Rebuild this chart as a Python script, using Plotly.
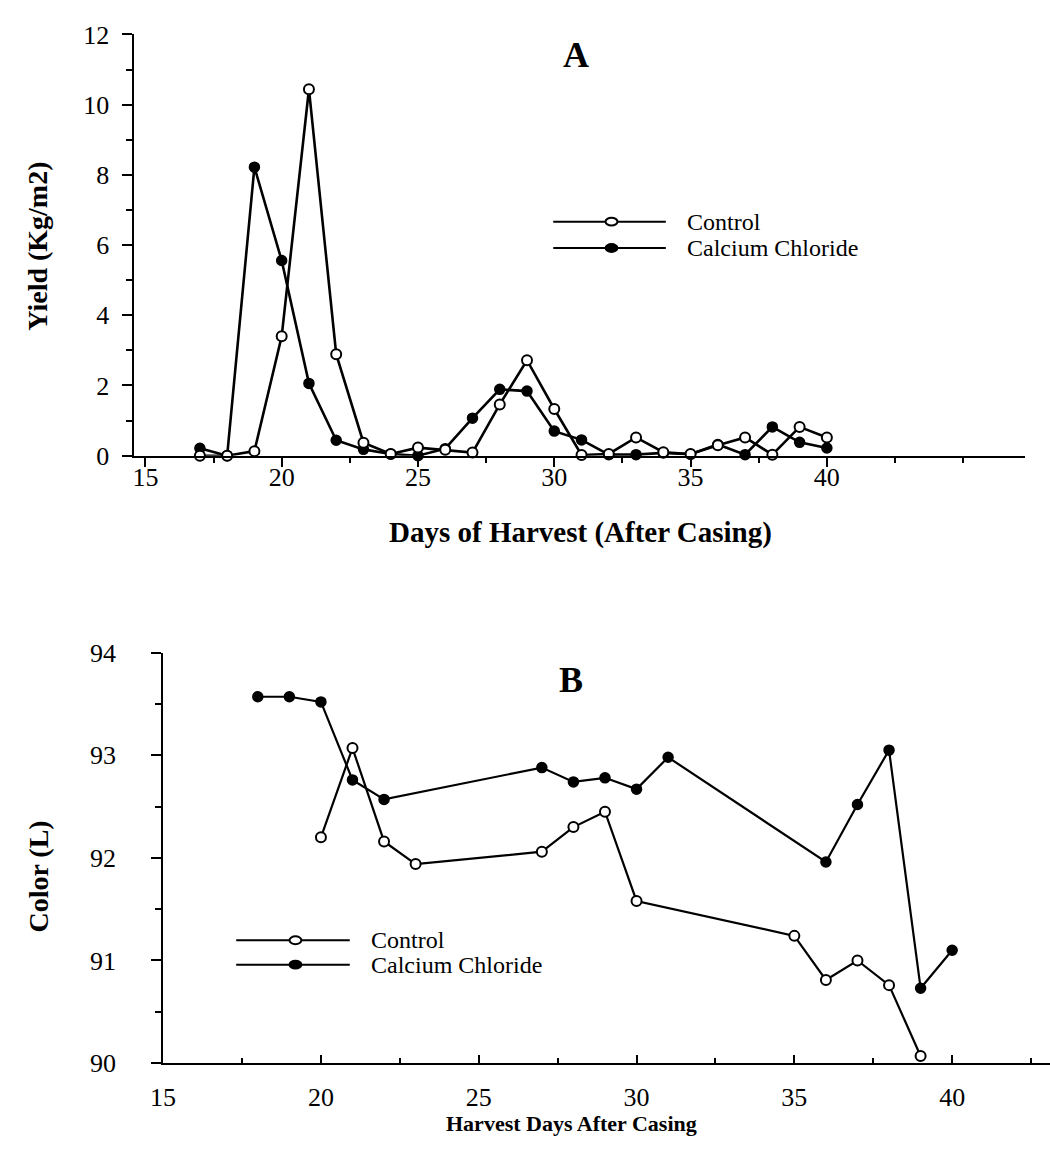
import plotly.graph_objects as go

W, H = 1050, 1161
FONT = "Liberation Serif"

# ---------------- Panel A data (yield, kg/m2) ----------------
days_a = [17, 18, 19, 20, 21, 22, 23, 24, 25, 26, 27, 28, 29, 30, 31, 32, 33, 34, 35, 36, 37, 38, 39, 40]
yield_control = [0.0, 0.0, 0.13, 3.40, 10.44, 2.89, 0.37, 0.05, 0.23, 0.17, 0.09, 1.46, 2.72, 1.33, 0.02, 0.05,
                 0.52, 0.10, 0.05, 0.30, 0.52, 0.03, 0.82, 0.52]
yield_cacl2 = [0.21, 0.0, 8.22, 5.56, 2.06, 0.44, 0.18, 0.05, 0.0, 0.20, 1.07, 1.89, 1.84, 0.70, 0.45, 0.03,
               0.03, 0.08, 0.04, 0.32, 0.03, 0.82, 0.38, 0.22]

# ---------------- Panel B data (color L) ----------------
days_b_control = [20, 21, 22, 23, 27, 28, 29, 30, 35, 36, 37, 38, 39]
color_control = [92.20, 93.07, 92.16, 91.94, 92.06, 92.30, 92.45, 91.58, 91.24, 90.81, 91.00, 90.76, 90.07]
days_b_cacl2 = [18, 19, 20, 21, 22, 27, 28, 29, 30, 31, 36, 37, 38, 39, 40]
color_cacl2 = [93.57, 93.57, 93.52, 92.76, 92.57, 92.88, 92.74, 92.78, 92.67, 92.98, 91.96, 92.52, 93.05, 90.73, 91.10]

x_major = [15, 20, 25, 30, 35, 40]
x_minor = [17.5, 22.5, 27.5, 32.5, 37.5, 42.5, 45]
series_names = ["Control", "Calcium Chloride"]


def px(x):
    return x / W


def py(y):
    return 1 - y / H


fig = go.Figure()

open_marker = dict(symbol="circle", size=10, color="white", line=dict(color="black", width=2))
filled_marker = dict(symbol="circle", size=10, color="black", line=dict(color="black", width=1.5))

fig.add_trace(go.Scatter(x=days_a, y=yield_cacl2, mode="lines+markers", name=series_names[1],
                         line=dict(color="black", width=2.6), marker=filled_marker,
                         xaxis="x", yaxis="y", cliponaxis=False, showlegend=False))
fig.add_trace(go.Scatter(x=days_a, y=yield_control, mode="lines+markers", name=series_names[0],
                         line=dict(color="black", width=2.6), marker=open_marker,
                         xaxis="x", yaxis="y", cliponaxis=False, showlegend=False))
fig.add_trace(go.Scatter(x=days_b_cacl2, y=color_cacl2, mode="lines+markers", name=series_names[1],
                         line=dict(color="black", width=2.2), marker=filled_marker,
                         xaxis="x2", yaxis="y2", cliponaxis=False, showlegend=False))
fig.add_trace(go.Scatter(x=days_b_control, y=color_control, mode="lines+markers", name=series_names[0],
                         line=dict(color="black", width=2.2), marker=open_marker,
                         xaxis="x2", yaxis="y2", cliponaxis=False, showlegend=False))

tickfont = dict(family=FONT, size=26, color="black")
common = dict(showgrid=False, zeroline=False, showline=True, linecolor="black", linewidth=2,
              tickcolor="black", tickwidth=2, tickfont=tickfont)

fig.update_layout(
    width=W, height=H, autosize=False,
    margin=dict(l=0, r=0, t=0, b=0),
    paper_bgcolor="white", plot_bgcolor="white",
    font=dict(family=FONT, color="black"),
    xaxis=dict(domain=[px(123), px(1025)], range=[14.6, 47.28], anchor="y",
               tickmode="array", tickvals=x_major, ticks="outside", ticklen=9,
               minor=dict(tickvals=x_minor, ticks="outside", ticklen=5, tickwidth=1.5, tickcolor="black"),
               ticklabelstandoff=-12, **common),
    yaxis=dict(domain=[py(453), py(21)], range=[0, 12], anchor="x",
               tickmode="linear", tick0=0, dtick=2, ticks="outside", ticklen=10,
               minor=dict(tick0=0, dtick=1, ticks="outside", ticklen=6, tickwidth=1.5, tickcolor="black"),
               ticklabelstandoff=8, **common),
    xaxis2=dict(domain=[px(152), px(1050)], range=[15, 43.1], anchor="y2",
                tickmode="array", tickvals=x_major, ticks="inside", ticklen=8,
                minor=dict(tickvals=x_minor[:-1], ticks="inside", ticklen=5, tickwidth=1.5, tickcolor="black"),
                ticklabelstandoff=10, **common),
    yaxis2=dict(domain=[py(1076), py(655)], range=[90, 94], anchor="x2",
                tickmode="linear", tick0=90, dtick=1, ticks="outside", ticklen=10,
                minor=dict(tick0=90, dtick=0.5, ticks="outside", ticklen=6, tickwidth=1.5, tickcolor="black"),
                ticklabelstandoff=30, **common),
)

annotations = []
shapes = []


def text(x, y, s, size, bold=False, angle=0, xanchor="center"):
    annotations.append(dict(x=px(x), y=py(y), xref="paper", yref="paper", showarrow=False,
                            text=("<b>%s</b>" % s) if bold else s, textangle=angle,
                            xanchor=xanchor, yanchor="middle",
                            font=dict(family=FONT, size=size, color="black")))


text(570, 42, "A", 36, bold=True)
text(565, 683, "B", 36, bold=True)
text(24, 238, "Yield (Kg/m2)", 28, bold=True, angle=-90)
text(575, 532, "Days of Harvest (After Casing)", 29, bold=True)
text(26, 885, "Color (L)", 28, bold=True, angle=-90)
text(565, 1138, "Harvest Days After Casing", 22, bold=True)


def legend(x0, x1, xm, xt, y_rows):
    for i, (yy, name) in enumerate(zip(y_rows, series_names)):
        shapes.append(dict(type="line", xref="paper", yref="paper", x0=px(x0), x1=px(x1),
                           y0=py(yy), y1=py(yy), line=dict(color="black", width=2)))
        fill = "white" if i == 0 else "black"
        shapes.append(dict(type="circle", xref="paper", yref="paper",
                           x0=px(xm - 6), x1=px(xm + 6), y0=py(yy + 4), y1=py(yy - 4),
                           fillcolor=fill, line=dict(color="black", width=2)))
        text(xt, yy, name, 24, xanchor="left")


legend(547, 661, 606, 680, [213, 240])
legend(226, 341, 286, 360, [950, 975])

fig.update_layout(annotations=annotations, shapes=shapes)
fig.write_html("out.html")
